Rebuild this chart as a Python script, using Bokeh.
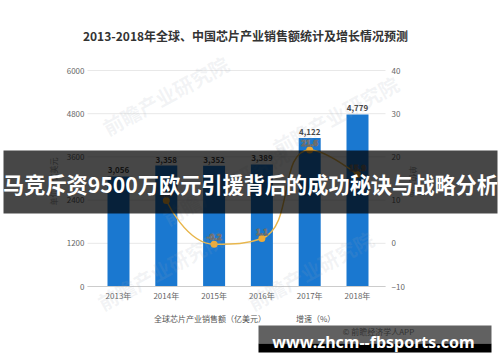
import math
from bokeh.plotting import figure
from bokeh.models import (Range1d, LinearAxis, FixedTicker, Label, BoxAnnotation,
                          Legend, LegendItem, ColumnDataSource)
from bokeh.core.properties import value
from bokeh.embed import file_html
from bokeh.resources import INLINE

# ---------------- data ----------------
years = ["2013年", "2014年", "2015年", "2016年", "2017年", "2018年"]
sales = [3056, 3358, 3352, 3389, 4122, 4779]          # 全球芯片产业销售额（亿美元）
growth = [None, 9.9, -0.2, 1.1, 21.6, 15.9]            # 增速（%）
left_ticks = [0, 1200, 2400, 3600, 4800, 6000]
right_ticks = [-10, 0, 10, 20, 30, 40]
title_text = "2013-2018年全球、中国芯片产业销售额统计及增长情况预测"
sales_name = "全球芯片产业销售额（亿美元）"
growth_name = "增速（%）"
left_axis_name = "单位：亿美元"
right_axis_name = "单位：%"
banner_text = "马竞斥资9500万欧元引援背后的成功秘诀与战略分析"
url_text = "www.zhcm--fbsports.com"
source_text = "© 前瞻经济学人APP"
watermark = "前瞻产业研究院"

# ---------------- layout (frame = whole canvas, axes at fixed locations) ----------------
W, H = 500, 362
PL, PR, PT, PB = 87, 385, 70, 286        # plot area in canvas pixels
XU = 47.8                                # pixels per category
XC0 = 118                                # pixel centre of first category
YMAX = left_ticks[-1]
GMIN, GMAX = right_ticks[0], right_ticks[-1]
YPX = (PB - PT) / YMAX                   # pixels per sales unit
GPX = (PB - PT) / (GMAX - GMIN)          # pixels per growth unit

def dx(px):
    return (px - XC0) / XU

def dy(py):
    return (PB - py) / YPX

def dg(py):
    return GMIN + (PB - py) / GPX

CJK = "Noto Sans CJK SC"
BLUE = "#1a78d0"
GOLD = "#e8b64c"

p = figure(width=W, height=H, output_backend="svg", toolbar_location=None,
           title_location=None,
           x_range=Range1d(dx(0), dx(W)), y_range=Range1d(dy(H), dy(0)),
           x_axis_location=None, y_axis_location=None,
           min_border=0, min_border_left=0, min_border_right=0,
           min_border_top=0, min_border_bottom=0)
p.outline_line_color = None
p.background_fill_color = "white"
p.border_fill_color = "white"
p.extra_y_ranges = {"g": Range1d(dg(H), dg(0))}
p.xgrid.visible = False
p.ygrid.visible = False

def style_axis(ax, standoff):
    ax.axis_line_color = None
    ax.major_tick_line_color = None
    ax.minor_tick_line_color = None
    ax.major_tick_out = 0
    ax.major_tick_in = 0
    ax.major_label_text_font = CJK
    ax.major_label_text_font_size = "8px"
    ax.major_label_text_color = "#666666"
    ax.major_label_standoff = standoff

# x axis (at sales = 0)
xa = LinearAxis(ticker=FixedTicker(ticks=list(range(len(years)))), fixed_location=0,
                bounds=(dx(PL), dx(PR)))
style_axis(xa, 3)
xa.major_label_overrides = {i: y for i, y in enumerate(years)}
xa.axis_line_color = "#cccccc"
p.add_layout(xa, "below")

# left axis
ya = LinearAxis(ticker=FixedTicker(ticks=left_ticks), fixed_location=dx(PL))
style_axis(ya, 3)
ya.axis_label = left_axis_name
ya.axis_label_text_font = CJK
ya.axis_label_text_font_size = "8px"
ya.axis_label_text_font_style = "normal"
ya.axis_label_text_color = "#999999"
ya.axis_label_standoff = 5
p.add_layout(ya, "left")

# right axis
ra = LinearAxis(y_range_name="g", ticker=FixedTicker(ticks=right_ticks), fixed_location=dx(PR))
style_axis(ra, 6)
ra.axis_label = right_axis_name
ra.axis_label_text_font = CJK
ra.axis_label_text_font_size = "8px"
ra.axis_label_text_font_style = "normal"
ra.axis_label_text_color = "#999999"
ra.axis_label_standoff = 0
p.add_layout(ra, "right")

# horizontal grid lines at the left-axis ticks, spanning the plot area
p.segment(x0=[dx(PL)] * len(left_ticks), x1=[dx(PR)] * len(left_ticks),
          y0=left_ticks, y1=left_ticks, line_color="#e8e8e8", line_width=1, level="underlay")

# ---------------- bars ----------------
xs = list(range(len(years)))
bsrc = ColumnDataSource(dict(x=xs, top=sales, lab=[f"{v:,}" for v in sales]))
p.vbar(x="x", top="top", width=22 / XU, source=bsrc, fill_color=BLUE, line_color=None)
p.text(x="x", y="top", text="lab", source=bsrc, y_offset=-3,
       text_align="center", text_baseline="bottom",
       text_font=value(CJK), text_font_size="8px", text_font_style="bold", text_color="#444444")

# ---------------- smooth growth line (ECharts-style bezier) ----------------
gi = [i for i, g in enumerate(growth) if g is not None]
gv = [growth[i] for i in gi]
P = [(i * XU, g * GPX) for i, g in zip(gi, gv)]
sm = 0.5

def clamp(v, a, b):
    return min(max(v, min(a, b)), max(a, b))

segs = []
cp0 = P[0]
for k in range(1, len(P)):
    x, y = P[k]
    px_, py_ = P[k - 1]
    if k == len(P) - 1:
        cp1 = (x, y)
        ncp0 = (x, y)
    else:
        nx, ny = P[k + 1]
        vx, vy = nx - px_, ny - py_
        l0 = math.hypot(x - px_, y - py_)
        l1 = math.hypot(nx - x, ny - y)
        r = l1 / (l0 + l1)
        ncx = clamp(x + vx * sm * r, x, nx)
        ncy = clamp(y + vy * sm * r, y, ny)
        vx, vy = ncx - x, ncy - y
        c1x = clamp(x - vx * l0 / l1, px_, x)
        c1y = clamp(y - vy * l0 / l1, py_, y)
        vx, vy = x - c1x, y - c1y
        ncp0 = (x + vx * l1 / l0, y + vy * l1 / l0)
        cp1 = (c1x, c1y)
    segs.append((P[k - 1], cp0, cp1, P[k]))
    cp0 = ncp0

bz = dict(x0=[], y0=[], x1=[], y1=[], cx0=[], cy0=[], cx1=[], cy1=[])
for a, c0, c1, b in segs:
    bz["x0"].append(a[0] / XU); bz["y0"].append(a[1] / GPX)
    bz["cx0"].append(c0[0] / XU); bz["cy0"].append(c0[1] / GPX)
    bz["cx1"].append(c1[0] / XU); bz["cy1"].append(c1[1] / GPX)
    bz["x1"].append(b[0] / XU); bz["y1"].append(b[1] / GPX)
p.bezier(source=ColumnDataSource(bz), x0="x0", y0="y0", x1="x1", y1="y1",
         cx0="cx0", cy0="cy0", cx1="cx1", cy1="cy1",
         line_color=GOLD, line_width=1.5, y_range_name="g")

gsrc = ColumnDataSource(dict(x=gi, y=gv, lab=[f"{g:.1f}" for g in gv]))
p.scatter(x="x", y="y", source=gsrc, size=7, fill_color="#f0ac36", line_color=None,
          y_range_name="g")
p.text(x="x", y="y", text="lab", source=gsrc, y_offset=-7, y_range_name="g",
       text_align="center", text_baseline="middle",
       text_font=value(CJK), text_font_size="8px", text_font_style="bold",
       text_color="white", text_outline_color="#6b6b6b")

# ---------------- watermarks ----------------
for (wx, wy) in [(165, 95), (335, 115), (160, 270), (310, 270), (225, 185)]:
    p.add_layout(Label(x=dx(wx), y=dy(wy), text=watermark, text_align="center",
                       text_baseline="middle", angle=0.5, text_font=CJK,
                       text_font_size="20px", text_font_style="bold",
                       text_color="#9aa6b2", text_alpha=0.13, level="guide"))

# ---------------- legend ----------------
dummy_c = p.scatter(x=[], y=[], size=8, fill_color=BLUE, line_color=None)
dummy_l = p.line(x=[], y=[], line_color=GOLD, line_width=2)
dummy_p = p.scatter(x=[], y=[], size=5, fill_color="#c9962a", line_color=None)
legend = Legend(items=[LegendItem(label=sales_name, renderers=[dummy_c]),
                       LegendItem(label=growth_name, renderers=[dummy_l, dummy_p])],
                orientation="horizontal", location=(138, 38), level="guide",
                label_text_font=CJK, label_text_font_size="8px", label_text_color="#555555",
                glyph_width=14, glyph_height=10, label_height=10, label_standoff=2,
                spacing=14, padding=0, margin=0, border_line_color=None,
                background_fill_alpha=0)
p.add_layout(legend, "center")

# ---------------- title and notes ----------------
def put(px, py, text, size, color, font=CJK, bold=False, level="annotation", baseline="middle"):
    lab = Label(x=dx(px), y=dy(py), text=text, text_align="center", text_baseline=baseline,
                text_font=font, text_font_size=size, text_color=color,
                text_font_style="bold" if bold else "normal", level=level)
    p.add_layout(lab)
    return lab

put(245, 35, title_text, "12px", "#333333", bold=True)
put(378, 331, source_text, "8px", "#888888", level="guide")

# ---------------- overlays ----------------
p.add_layout(BoxAnnotation(left=dx(3), right=dx(497), top=dy(150), bottom=dy(213),
                           fill_color="black", fill_alpha=0.72, line_alpha=0))
put(250, 183, banner_text, "21.2px", "white", bold=True, level="overlay")

p.add_layout(BoxAnnotation(left=dx(258), right=dx(491), top=dy(325), bottom=dy(343),
                           fill_color="black", fill_alpha=0.62, line_alpha=0))
p.add_layout(BoxAnnotation(left=dx(258), right=dx(491), top=dy(343), bottom=dy(352),
                           fill_color="black", fill_alpha=1.0, line_alpha=0))
put(373, 341, url_text, "16px", "white", font="Noto Sans", bold=True, level="overlay",
    baseline="alphabetic")

open("out.html", "w").write(file_html(p, INLINE))
